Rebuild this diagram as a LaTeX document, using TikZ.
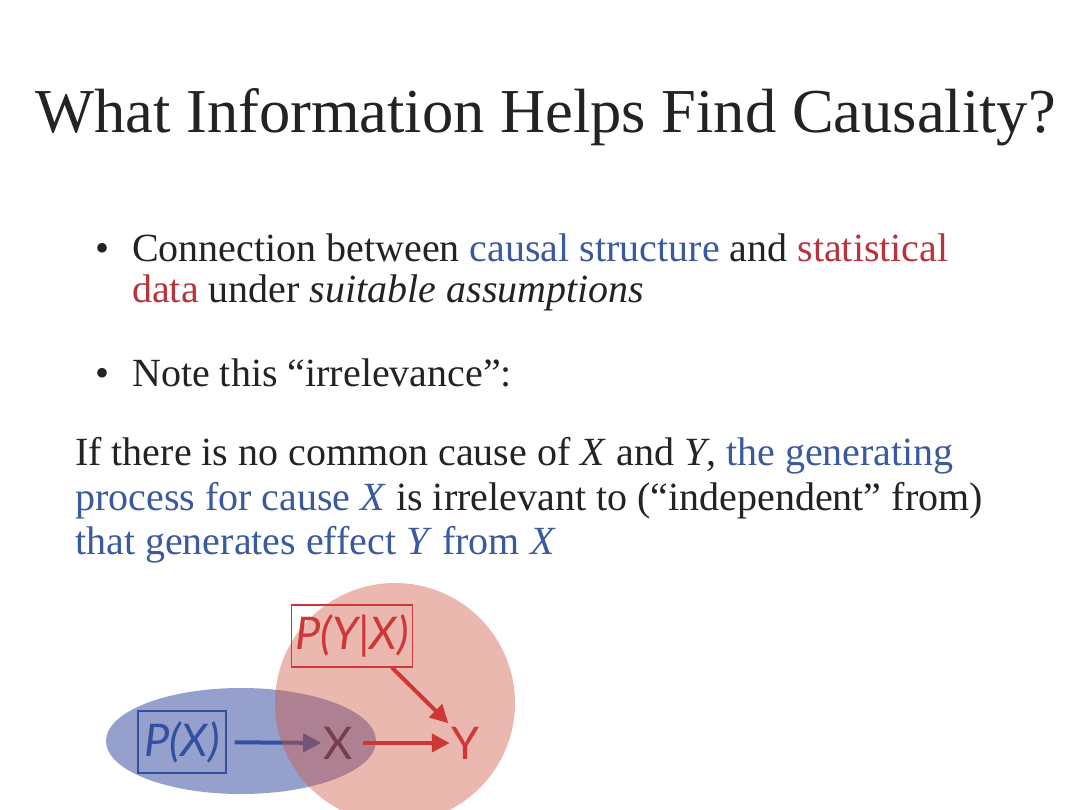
\documentclass[tikz,border=0pt]{standalone}
\usepackage{fontspec}
\setmainfont{Liberation Serif}
\newfontfamily\diagfont{Lato}
\usetikzlibrary{arrows.meta}

\tikzset{
  title/.style={anchor=base west, text=textgray, font=\fontsize{62.5}{70}\selectfont, inner sep=0pt},
  body/.style={anchor=base west, text=textgray, font=\fontsize{40}{48}\selectfont, inner sep=0pt},
  probbox/.style={draw, line width=1.3pt, inner sep=0pt, minimum height=62pt, font=\diagfont\fontsize{45}{50}\selectfont\itshape},
  varnode/.style={inner sep=2pt, font=\diagfont\fontsize{45}{50}\selectfont},
  causearrow/.style={line width=4pt, -{Triangle[length=18pt,width=18pt]}}
}

\begin{document}
\begin{tikzpicture}[x=1pt,y=-1pt]

    % Define colors
    \definecolor{textgray}{RGB}{35,35,35}
    \definecolor{textblue}{RGB}{58,90,160}
    \definecolor{textred}{RGB}{185,50,60}
    \definecolor{ellblue}{RGB}{150,160,205}
    \definecolor{circred}{RGB}{207,88,64}
    \definecolor{boxblue}{RGB}{50,80,160}
    \definecolor{boxred}{RGB}{205,55,55}
    \definecolor{xdark}{RGB}{57,40,91}

    \useasboundingbox (0,0) rectangle (1080,810);
    \fill[white] (0,0) rectangle (1080,810);

    % Title
    \node[title] (head) at (35,133) {What Information Helps Find Causality?};

    % Bullets
    \node[body] (dot1) at (95,262) {\textbullet};
    \node[body] (line1) at (132,262) {Connection between \textcolor{textblue}{causal structure} and \textcolor{textred}{statistical}};
    \node[body] (line2) at (132,303) {\textcolor{textred}{data} under \textit{suitable assumptions}};
    \node[body] (dot2) at (95,387) {\textbullet};
    \node[body] (line3) at (132,387) {Note this ``irrelevance'':};

    % Paragraph
    \node[body] (para1) at (75,466) {If there is no common cause of \textit{X} and \textit{Y}, \textcolor{textblue}{the generating}};
    \node[body] (para2) at (75,510) {\textcolor{textblue}{process for cause \textit{X}} is irrelevant to (``independent'' from)};
    \node[body] (para3) at (75,554) {\textcolor{textblue}{that generates effect \textit{Y} from \textit{X}}};

    %-------------
    % Diagram
    \fill[ellblue] (241,741) ellipse[x radius=135, y radius=53];

    \node[probbox, boxblue, minimum width=88pt] (px) at (182,742) {P(X)};
    \node[varnode, text=xdark] (x) at (338,743) {X};

    \draw[causearrow, boxblue, shorten <=8pt] (px) -- (x);

    \fill[circred, fill opacity=0.42] (395,703) circle(120);

    \node[probbox, boxred, minimum width=121pt] (pyx) at (352,636) {P(Y|X)};
    \node[varnode, text=boxred] (y) at (466,743) {Y};

    \draw[causearrow, boxred, shorten <=8pt] (x) -- (y);
    \draw[causearrow, boxred, shorten >=2pt] ([xshift=40pt]pyx.south) -- (y.north west);

\end{tikzpicture}
\end{document}
